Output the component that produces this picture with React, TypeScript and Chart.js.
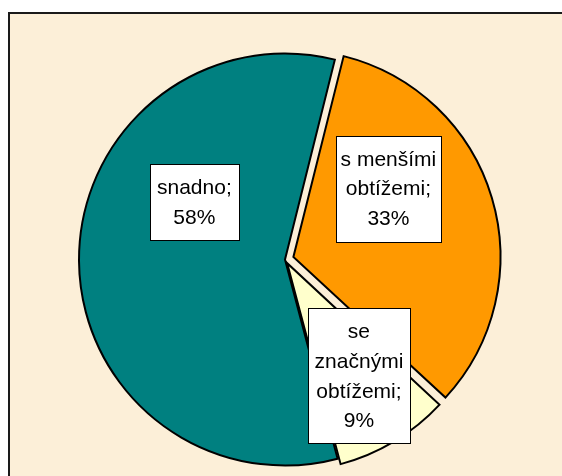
import React, { useEffect, useRef } from "react";
import { Chart, registerables } from "chart.js";

Chart.register(...registerables);

const categories = ["s menšími obtížemi", "se značnými obtížemi", "snadno"];
const values = [33, 9, 58];
const categoryLines = [["s menšími", "obtížemi;"], ["se", "značnými", "obtížemi;"], ["snadno;"]];
const sliceColors = ["#FF9900", "#FFFFCC", "#008080"];
const sliceOffsets = [35, 17, 0];

// label box layout: centre as fraction of radius from pie centre, box width
const labelLayout = [
  { fx: 0.502, fy: -0.345, w: 105 },
  { fx: 0.359, fy: 0.566, w: 102 },
  { fx: -0.44, fy: -0.279, w: 89 },
];

const FONT = "21px 'Liberation Sans', Arial, sans-serif";
const LINE_H = 29.7;

const labelPlugin = {
  id: "boxLabels",
  afterDatasetsDraw(chart: any) {
    const ctx = chart.ctx;
    const meta = chart.getDatasetMeta(0);
    const data = chart.data.datasets[0].data;
    meta.data.forEach((arc: any, i: number) => {
      const props = arc.getProps(["x", "y", "outerRadius"], true);
      const r = props.outerRadius;
      const lay = labelLayout[i];
      const cx = props.x + lay.fx * r;
      const cy = props.y + lay.fy * r;
      const lines = [...categoryLines[i], `${data[i]}%`];
      const h = lines.length * LINE_H + 16.5;
      const w = lay.w;
      const left = Math.round(cx - w / 2) + 0.5;
      const top = Math.round(cy - h / 2) + 0.5;
      ctx.save();
      ctx.fillStyle = "#FFFFFF";
      ctx.fillRect(left, top, Math.round(w), Math.round(h));
      ctx.strokeStyle = "#000000";
      ctx.lineWidth = 1;
      ctx.strokeRect(left, top, Math.round(w), Math.round(h));
      ctx.fillStyle = "#000000";
      ctx.font = FONT;
      ctx.textAlign = "center";
      ctx.textBaseline = "middle";
      const startY = cy - ((lines.length - 1) * LINE_H) / 2;
      lines.forEach((ln, k) => {
        ctx.fillText(ln, cx, startY + k * LINE_H + 1);
      });
      ctx.restore();
    });
  },
};

export default function App() {
  const ref = useRef<HTMLCanvasElement | null>(null);
  useEffect(() => {
    document.body.style.overflow = "hidden";
    const canvas = ref.current!;
    const chart = new Chart(canvas, {
      type: "pie",
      data: {
        labels: categories,
        datasets: [
          {
            data: values,
            backgroundColor: sliceColors,
            borderColor: "#000000",
            borderWidth: 2,
            borderJoinStyle: "miter",
            offset: sliceOffsets,
          } as any,
        ],
      },
      options: {
        animation: false,
        responsive: false,
        rotation: 14,
        radius: 206,
        layout: { padding: { left: 0, right: 2, top: 29, bottom: 0 } },
        plugins: {
          legend: { display: false },
          tooltip: { enabled: false },
        },
        events: [],
      } as any,
      plugins: [labelPlugin],
    });
    return () => chart.destroy();
  }, []);
  return (
    <div
      style={{
        position: "fixed",
        left: 8,
        top: 12,
        right: 0,
        bottom: 0,
        background: "#FCEFD8",
        borderLeft: "2px solid #1a1a1a",
        borderTop: "2px solid #1a1a1a",
        overflow: "hidden",
      }}
    >
      <canvas ref={ref} width={552} height={462} style={{ display: "block", width: 552, height: 462 }} />
    </div>
  );
}
